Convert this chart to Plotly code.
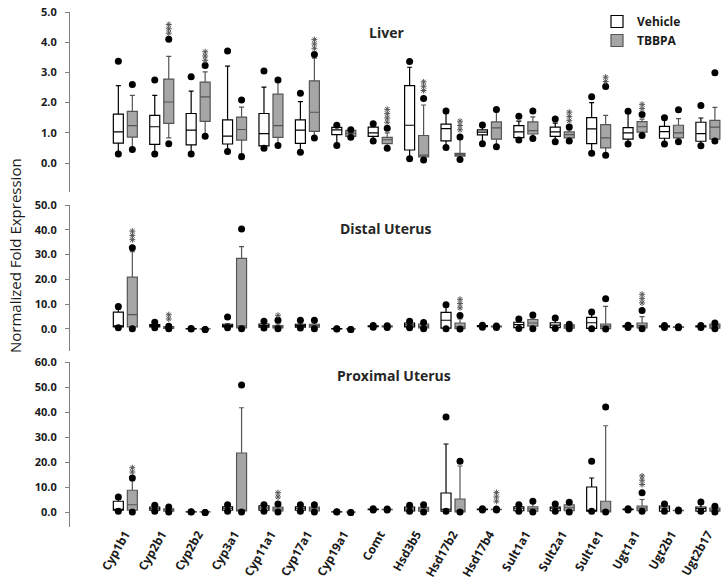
import plotly.graph_objects as go

W, H = 725, 584
FONT = "Open Sans"

genes = ["Cyp1b1", "Cyp2b1", "Cyp2b2", "Cyp3a1", "Cyp11a1", "Cyp17a1", "Cyp19a1", "Comt",
         "Hsd3b5", "Hsd17b2", "Hsd17b4", "Sult1a1", "Sult2a1", "Sult1e1", "Ugt1a1", "Ugt2b1", "Ugt2b17"]

# ---------------- Liver ----------------
liver_veh_q1 = [0.66, 0.62, 0.60, 0.63, 0.57, 0.65, 0.94, 0.88, 0.43, 0.73, 0.93, 0.84, 0.88, 0.64, 0.79, 0.82, 0.72]
liver_veh_med = [1.03, 1.20, 1.09, 0.89, 0.97, 1.09, 1.10, 1.00, 1.25, 1.14, 1.02, 1.03, 1.03, 1.13, 1.00, 1.04, 0.97]
liver_veh_q3 = [1.62, 1.58, 1.64, 1.43, 1.64, 1.43, 1.18, 1.19, 2.56, 1.29, 1.10, 1.24, 1.19, 1.50, 1.17, 1.21, 1.35]
liver_veh_hi = [2.56, 2.24, 2.38, 3.21, 2.51, 2.03, 1.20, 1.25, 3.17, 1.65, 1.20, 1.39, 1.32, 2.00, 1.65, 1.45, 1.49]
liver_veh_lo = [0.35, 0.35, 0.35, 0.42, 0.52, 0.40, 0.65, 0.78, 0.20, 0.55, 0.70, 0.78, 0.73, 0.36, 0.68, 0.68, 0.62]
liver_veh_min = [0.30, 0.30, 0.30, 0.38, 0.49, 0.36, 0.58, 0.73, 0.14, 0.51, 0.64, 0.76, 0.70, 0.32, 0.63, 0.63, 0.57]
liver_veh_max = [3.37, 2.75, 2.86, 3.71, 3.05, 2.31, 1.25, 1.30, 3.36, 1.72, 1.26, 1.55, 1.46, 2.19, 1.71, 1.50, 1.90]

liver_tb_q1 = [0.86, 1.31, 1.38, 0.76, 0.85, 1.05, 0.88, 0.64, 0.20, 0.23, 0.79, 0.96, 0.83, 0.50, 1.02, 0.83, 0.79]
liver_tb_med = [1.24, 2.02, 2.19, 1.11, 1.24, 1.68, 0.98, 0.77, 0.26, 0.28, 1.16, 1.07, 0.94, 0.83, 1.20, 1.00, 1.19]
liver_tb_q3 = [1.71, 2.78, 2.68, 1.52, 2.28, 2.72, 1.08, 0.85, 0.91, 0.32, 1.36, 1.36, 1.03, 1.27, 1.37, 1.25, 1.41]
liver_tb_hi = [2.24, 3.53, 3.02, 1.85, 2.75, 3.47, 1.08, 1.00, 1.92, 0.80, 1.70, 1.53, 1.10, 1.58, 1.45, 1.47, 1.84]
liver_tb_lo = [0.50, 0.83, 0.95, 0.30, 0.60, 0.85, 0.86, 0.55, 0.12, 0.15, 0.60, 0.85, 0.76, 0.30, 0.93, 0.73, 0.76]
liver_tb_min = [0.45, 0.64, 0.89, 0.21, 0.58, 0.83, 0.85, 0.49, 0.10, 0.12, 0.54, 0.81, 0.73, 0.26, 0.91, 0.70, 0.73]
liver_tb_max = [2.60, 4.10, 3.23, 2.09, 2.75, 3.59, 1.10, 1.15, 2.14, 0.86, 1.77, 1.72, 1.19, 2.53, 1.61, 1.76, 2.99]

liver_stars_gene = [1, 2, 5, 7, 8, 9, 12, 13, 14]
liver_stars_n = [3, 3, 3, 4, 3, 3, 3, 2, 2]
liver_stars_y = [4.30, 3.40, 3.80, 1.35, 2.40, 1.10, 1.40, 2.70, 1.80]

# ---------------- Distal Uterus ----------------
dist_veh_q1 = [0.8, 0.8, 0.05, 0.8, 0.7, 0.7, 0.0, 0.9, 0.8, 0.3, 0.9, 0.5, 0.5, 0.2, 0.8, 0.8, 0.8]
dist_veh_med = [1.0, 1.3, 0.1, 1.3, 1.3, 1.3, 0.05, 1.0, 1.6, 3.5, 1.1, 1.7, 1.5, 2.5, 1.0, 1.0, 1.0]
dist_veh_q3 = [6.8, 1.7, 0.15, 1.9, 2.0, 1.9, 0.1, 1.2, 2.4, 6.7, 1.3, 2.7, 2.5, 4.7, 1.3, 1.2, 1.2]
dist_veh_hi = [8.0, 2.2, 0.15, 2.1, 2.5, 2.5, 0.1, 1.2, 2.6, 9.0, 1.4, 3.3, 3.5, 6.0, 1.4, 1.3, 1.3]
dist_veh_lo = [0.6, 0.6, 0.05, 0.6, 0.5, 0.5, 0.0, 0.8, 0.6, 0.2, 0.8, 0.3, 0.3, 0.1, 0.7, 0.7, 0.7]
dist_veh_min = [0.5, 0.5, 0.0, 0.5, 0.4, 0.4, 0.0, 0.7, 0.5, 0.1, 0.7, 0.2, 0.2, 0.05, 0.6, 0.6, 0.6]
dist_veh_max = [9.1, 2.7, 0.2, 4.8, 3.1, 3.5, 0.1, 1.4, 3.1, 9.8, 1.5, 4.0, 4.4, 6.8, 1.5, 1.4, 1.4]

dist_tb_q1 = [0.8, 0.2, 0.0, 0.4, 0.4, 0.7, 0.0, 0.8, 0.4, 0.1, 0.8, 1.1, 0.3, 0.1, 0.4, 0.6, 0.3]
dist_tb_med = [5.8, 0.5, 0.0, 1.2, 0.9, 1.3, 0.0, 1.0, 1.0, 0.8, 1.0, 2.4, 1.0, 1.1, 1.3, 0.7, 1.2]
dist_tb_q3 = [20.9, 0.9, 0.05, 28.5, 1.3, 1.9, 0.0, 1.2, 2.0, 2.4, 1.1, 3.8, 1.6, 2.0, 2.4, 0.8, 2.0]
dist_tb_hi = [31.2, 1.0, 0.05, 33.2, 2.0, 2.5, 0.0, 1.2, 2.2, 4.0, 1.2, 4.5, 1.7, 9.1, 5.0, 0.8, 2.2]
dist_tb_lo = [0.3, 0.1, 0.0, 0.2, 0.2, 0.2, 0.0, 0.7, 0.2, 0.05, 0.7, 0.5, 0.1, 0.05, 0.2, 0.5, 0.1]
dist_tb_min = [0.1, 0.05, -0.2, 0.05, 0.05, 0.05, -0.2, 0.6, 0.1, 0.0, 0.6, 0.1, 0.05, 0.0, 0.05, 0.5, 0.05]
dist_tb_max = [32.8, 1.1, -0.2, 40.3, 3.5, 3.5, -0.2, 1.3, 2.6, 5.4, 1.2, 5.6, 1.9, 12.2, 7.4, 0.9, 2.4]

dist_stars_gene = [0, 1, 4, 9, 14]
dist_stars_n = [3, 2, 1, 3, 3]
dist_stars_y = [36.0, 4.0, 5.5, 8.5, 10.5]

# ---------------- Proximal Uterus ----------------
prox_veh_q1 = [0.7, 0.7, 0.0, 0.7, 0.7, 0.7, 0.0, 0.9, 0.4, 0.3, 0.9, 0.5, 0.5, 0.3, 0.9, 0.3, 0.3]
prox_veh_med = [1.0, 1.3, 0.05, 1.5, 1.6, 1.5, 0.05, 1.1, 1.2, 1.1, 1.1, 1.5, 1.5, 0.7, 1.1, 1.6, 1.4]
prox_veh_q3 = [4.3, 2.0, 0.1, 2.1, 2.5, 2.1, 0.1, 1.2, 2.0, 7.6, 1.2, 2.1, 2.0, 10.0, 1.2, 2.4, 2.0]
prox_veh_hi = [5.0, 2.3, 0.1, 2.4, 2.7, 2.5, 0.1, 1.2, 2.3, 27.2, 1.2, 2.5, 2.6, 13.6, 1.2, 2.8, 3.0]
prox_veh_lo = [0.4, 0.5, 0.0, 0.5, 0.5, 0.5, 0.0, 0.8, 0.3, 0.3, 0.8, 0.3, 0.3, 0.3, 0.8, 0.3, 0.3]
prox_veh_min = [0.3, 0.3, 0.0, 0.3, 0.3, 0.3, 0.0, 0.8, 0.3, 0.3, 0.8, 0.3, 0.3, 0.3, 0.8, 0.3, 0.3]
prox_veh_max = [6.0, 2.7, 0.1, 2.9, 2.9, 2.9, 0.1, 1.3, 2.7, 38.0, 1.3, 2.9, 3.2, 20.3, 1.3, 3.2, 4.0]

prox_tb_q1 = [0.7, 0.3, 0.0, 0.4, 0.4, 0.4, 0.0, 0.9, 0.3, 0.0, 0.9, 0.3, 0.5, 0.0, 0.5, 0.5, 0.3]
prox_tb_med = [2.9, 0.9, 0.0, 0.7, 1.2, 1.3, 0.0, 1.0, 1.2, 0.5, 1.0, 1.3, 1.7, 0.5, 1.6, 0.6, 0.8]
prox_tb_q3 = [8.7, 1.3, 0.05, 23.6, 2.0, 2.0, 0.0, 1.1, 1.9, 5.2, 1.1, 2.1, 2.9, 4.3, 2.4, 0.7, 1.6]
prox_tb_hi = [12.5, 1.6, 0.05, 41.7, 2.6, 2.5, 0.0, 1.2, 2.4, 18.4, 1.2, 3.5, 3.4, 34.5, 5.0, 0.8, 2.0]
prox_tb_lo = [0.2, 0.1, 0.0, 0.1, 0.1, 0.1, 0.0, 0.8, 0.1, 0.0, 0.8, 0.1, 0.1, 0.0, 0.3, 0.4, 0.1]
prox_tb_min = [0.0, 0.0, -0.2, 0.0, 0.0, 0.0, -0.2, 0.8, 0.0, 0.0, 0.8, 0.0, 0.0, 0.0, 0.3, 0.4, 0.0]
prox_tb_max = [13.6, 2.0, -0.2, 50.8, 3.2, 2.9, -0.2, 1.2, 2.9, 20.3, 1.2, 4.3, 3.9, 42.0, 7.7, 0.8, 2.3]

prox_stars_gene = [0, 4, 10, 14]
prox_stars_n = [2, 2, 3, 3]
prox_stars_y = [16.0, 6.0, 4.3, 11.0]

# ---------------- layout geometry (pixels) ----------------
X_LEFT, X_RIGHT = 70, 725
XRANGE = [-1.52, 16.47]
PX_PER_CAT = (X_RIGHT - X_LEFT) / (XRANGE[1] - XRANGE[0])
OFF = 7.0 / PX_PER_CAT          # half distance between paired boxes
BW = 10.0 / PX_PER_CAT          # box width

panels = [
    dict(name="Liver", top=12, bot=192, rng=[-0.96, 5.0], dtick=1.0,
         veh=(liver_veh_q1, liver_veh_med, liver_veh_q3, liver_veh_lo, liver_veh_hi, liver_veh_min, liver_veh_max),
         tb=(liver_tb_q1, liver_tb_med, liver_tb_q3, liver_tb_lo, liver_tb_hi, liver_tb_min, liver_tb_max),
         stars=(liver_stars_gene, liver_stars_n, liver_stars_y), title_xy=(386, 32)),
    dict(name="Distal Uterus", top=205, bot=351, rng=[-8.9, 50.0], dtick=10.0,
         veh=(dist_veh_q1, dist_veh_med, dist_veh_q3, dist_veh_lo, dist_veh_hi, dist_veh_min, dist_veh_max),
         tb=(dist_tb_q1, dist_tb_med, dist_tb_q3, dist_tb_lo, dist_tb_hi, dist_tb_min, dist_tb_max),
         stars=(dist_stars_gene, dist_stars_n, dist_stars_y), title_xy=(386, 229)),
    dict(name="Proximal Uterus", top=362, bot=527, rng=[-6.0, 60.0], dtick=10.0,
         veh=(prox_veh_q1, prox_veh_med, prox_veh_q3, prox_veh_lo, prox_veh_hi, prox_veh_min, prox_veh_max),
         tb=(prox_tb_q1, prox_tb_med, prox_tb_q3, prox_tb_lo, prox_tb_hi, prox_tb_min, prox_tb_max),
         stars=(prox_stars_gene, prox_stars_n, prox_stars_y), title_xy=(394, 375)),
]

fig = go.Figure()
idx = list(range(len(genes)))
x_veh = [i - OFF for i in idx]
x_tb = [i + OFF for i in idx]

styles = {
    "veh": dict(name="Vehicle", fill="white", line="black", x=x_veh),
    "tb": dict(name="TBBPA", fill="#a6a6a6", line="#555555", x=x_tb),
}

annotations = []
for p_i, p in enumerate(panels):
    sfx = "" if p_i == 0 else str(p_i + 1)
    xa, ya = "x" + sfx, "y" + sfx
    for key in ("veh", "tb"):
        q1, med, q3, lo, hi, mn, mx = p[key]
        st = styles[key]
        fig.add_trace(go.Box(
            x=st["x"], q1=q1, median=med, q3=q3, lowerfence=lo, upperfence=hi,
            width=BW, whiskerwidth=0.5, boxpoints=False,
            fillcolor=st["fill"], line=dict(color=st["line"], width=1.2),
            name=st["name"], legendgroup=key, showlegend=(p_i == 0),
            xaxis=xa, yaxis=ya, hoverinfo="skip"))
    for key in ("veh", "tb"):
        q1, med, q3, lo, hi, mn, mx = p[key]
        st = styles[key]
        fig.add_trace(go.Scatter(
            x=st["x"] + st["x"], y=list(mn) + list(mx), mode="markers",
            marker=dict(color="black", size=7), showlegend=False,
            xaxis=xa, yaxis=ya, hoverinfo="skip"))
    # significance stars stacked vertically
    g, n, y0 = p["stars"]
    units_per_px = (p["rng"][1] - p["rng"][0]) / (p["bot"] - p["top"])
    sx, sy = [], []
    for gi, cnt, yb in zip(g, n, y0):
        for k in range(cnt):
            sx.append(gi + OFF)
            sy.append(yb + k * 4.3 * units_per_px)
    fig.add_trace(go.Scatter(
        x=sx, y=sy, mode="markers",
        marker=dict(symbol="asterisk-open", size=5, color="#555555",
                    line=dict(color="#555555", width=1)),
        showlegend=False, xaxis=xa, yaxis=ya, hoverinfo="skip"))
    annotations.append(dict(
        text="<b>%s</b>" % p["name"], x=p["title_xy"][0] / W, y=1 - p["title_xy"][1] / H,
        xref="paper", yref="paper", showarrow=False, xanchor="center", yanchor="middle",
        font=dict(family=FONT, size=14, color="#262626")))

annotations.append(dict(
    text="Normalized Fold Expression", x=15 / W, y=1 - 256 / H, xref="paper", yref="paper",
    showarrow=False, textangle=-90, xanchor="center", yanchor="middle",
    font=dict(family=FONT, size=15, color="#1a1a1a")))

layout = dict(
    width=W, height=H, margin=dict(l=0, r=0, t=0, b=0),
    paper_bgcolor="white", plot_bgcolor="white", boxmode="overlay",
    annotations=annotations,
    legend=dict(x=597 / W, y=1 - 7 / H, xanchor="left", yanchor="top",
                font=dict(family=FONT, size=12, color="#1a1a1a", weight="bold"),
                bgcolor="rgba(0,0,0,0)", tracegroupgap=0, itemwidth=30),
    font=dict(family=FONT),
)

for p_i, p in enumerate(panels):
    sfx = "" if p_i == 0 else str(p_i + 1)
    last = p_i == len(panels) - 1
    layout["xaxis" + sfx] = dict(
        domain=[X_LEFT / W, X_RIGHT / W], range=XRANGE, anchor="y" + sfx,
        showgrid=False, zeroline=False, showline=False, ticks="",
        tickmode="array", tickvals=idx, ticktext=genes if last else [""] * len(genes),
        showticklabels=last, tickangle=-60,
        tickfont=dict(family=FONT, size=12, color="#1a1a1a", weight="bold"),
        ticklabelstandoff=-3, automargin=False)
    ticks = [round(k * p["dtick"], 1) for k in range(int(round(p["rng"][1] / p["dtick"])) + 1)]
    layout["yaxis" + sfx] = dict(
        domain=[1 - p["bot"] / H, 1 - p["top"] / H], range=p["rng"], anchor="x" + sfx,
        showgrid=False, zeroline=False, showline=True, linecolor="#808080", linewidth=1,
        ticks="outside", ticklen=4, tickcolor="#808080", tickmode="array",
        tickvals=ticks, ticktext=["%.1f" % t for t in ticks],
        tickfont=dict(family=FONT, size=11, color="#1a1a1a", weight="bold"),
        ticklabelstandoff=6, automargin=False)

fig.update_layout(**layout)
fig.write_html("out.html", config={"displayModeBar": False},
               post_script="document.body.style.margin='0';document.body.style.overflow='hidden';")
